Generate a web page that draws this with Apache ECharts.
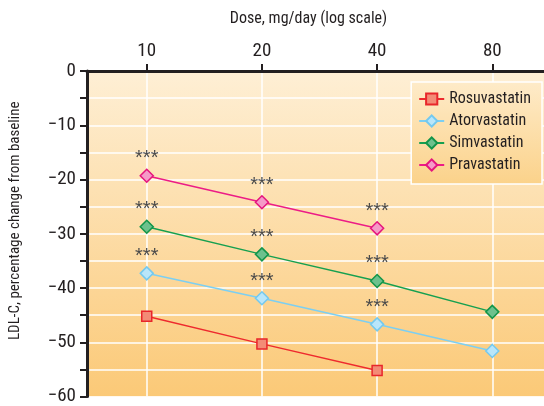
<!DOCTYPE html>
<html><head><meta charset="utf-8">
<script src="https://cdn.jsdelivr.net/npm/echarts@6/dist/echarts.min.js"></script>
<style>html,body{margin:0;padding:0;background:#fff}#c{width:544px;height:406px}</style>
</head><body><div id="c"></div>
<script>
// ---- data ----
const doses = [10, 20, 40, 80];
const xTickValues = [10, 20, 40, 80];
const seriesNames = ['Rosuvastatin', 'Atorvastatin', 'Simvastatin', 'Pravastatin'];
const rosuvastatin = [-45.2, -50.3, -55.2, null];
const atorvastatin = [-37.3, -41.9, -46.7, -51.6];
const simvastatin = [-28.7, -33.8, -38.7, -44.4];
const pravastatin = [-19.3, -24.2, -29.0, null];
const rosuvastatinSig = [false, false, false, false];
const atorvastatinSig = [true, true, true, false];
const simvastatinSig = [true, true, true, false];
const pravastatinSig = [true, true, true, false];
const sigMark = '***';
const xAxisTitle = 'Dose, mg/day (log scale)';
const yAxisTitle = 'LDL-C, percentage change from baseline';

// ---- styles ----
const FONT = '"Roboto Condensed", "Open Sans Condensed", "DejaVu Sans Condensed", "Liberation Sans Narrow", "Liberation Sans", sans-serif';
const INK = '#231f20';
const styles = [
  {line: '#ee2a2e', fill: '#f38b76', border: '#e8262b', symbol: 'rect', size: 10},
  {line: '#7ccff2', fill: '#b9e6fa', border: '#74c9ef', symbol: 'diamond', size: 13},
  {line: '#16a050', fill: '#6cc18d', border: '#12954a', symbol: 'diamond', size: 13},
  {line: '#ec1c86', fill: '#f59ac8', border: '#e5157e', symbol: 'diamond', size: 13}
];
const allValues = [rosuvastatin, atorvastatin, simvastatin, pravastatin];
const allSig = [rosuvastatinSig, atorvastatinSig, simvastatinSig, pravastatinSig];

const series = seriesNames.map((name, k) => {
  const st = styles[k];
  const data = [];
  doses.forEach((d, i) => {
    const v = allValues[k][i];
    if (v === null) return;
    data.push({value: [d, v], label: {show: allSig[k][i]}});
  });
  return {
    name, type: 'line', data,
    symbol: st.symbol, symbolSize: st.size,
    lineStyle: {color: st.line, width: 1.5},
    itemStyle: {color: st.fill, borderColor: st.border, borderWidth: 1.5},
    label: {show: false, position: 'top', distance: 0, formatter: sigMark,
      fontFamily: '"Liberation Sans", sans-serif', fontSize: 20, color: '#4a4a4a'},
    emphasis: {disabled: true},
    animation: false
  };
});

const chart = echarts.init(document.getElementById('c'), null, {renderer: 'canvas'});
chart.setOption({
  animation: false,
  backgroundColor: '#ffffff',
  grid: {
    left: 85, right: 0, top: 71, bottom: 8, show: true, borderWidth: 0,
    backgroundColor: {type: 'linear', x: 0, y: 0, x2: 0, y2: 1,
      colorStops: [{offset: 0, color: '#feefd5'}, {offset: 1, color: '#fbc977'}]}
  },
  legend: {
    orient: 'vertical', right: 2, top: 82,
    padding: [9, 11, 11, 7], itemGap: 6, itemWidth: 25, itemHeight: 14,
    borderColor: '#ffffff', borderWidth: 1.5,
    backgroundColor: {type: 'linear', x: 0, y: 0, x2: 0, y2: 1,
      colorStops: [{offset: 0, color: '#feebc9'}, {offset: 1, color: '#fbd28a'}]},
    textStyle: {fontFamily: FONT, fontSize: 16, lineHeight: 14, color: INK},
    data: seriesNames
  },
  xAxis: {
    type: 'log', logBase: 2, min: 6.98, max: 109.2, position: 'top',
    name: xAxisTitle, nameLocation: 'middle', nameGap: 44,
    nameTextStyle: {fontFamily: FONT, fontSize: 16, color: INK, padding: [0, 14, 0, 0]},
    axisLine: {show: true, lineStyle: {color: INK, width: 3}},
    axisTick: {show: true, length: 7, lineStyle: {color: INK, width: 2}, customValues: xTickValues},
    axisLabel: {fontFamily: FONT, fontSize: 19, color: INK, margin: 10, customValues: xTickValues},
    splitLine: {show: true, lineStyle: {color: '#ffffff', width: 1.5}},
    minorTick: {show: false}
  },
  yAxis: {
    type: 'value', min: -60, max: 0, interval: 5,
    name: yAxisTitle, nameLocation: 'middle', nameGap: 64,
    nameTextStyle: {fontFamily: FONT, fontSize: 15, color: INK, padding: [0, 0, 0, 26]},
    axisLine: {show: true, lineStyle: {color: INK, width: 3}},
    axisTick: {show: true, length: 7, lineStyle: {color: INK, width: 2}},
    axisLabel: {fontFamily: FONT, fontSize: 19, color: INK, margin: 11,
      formatter: v => (v % 10 !== 0) ? '' : (v === 0 ? '0' : '\u2212' + Math.abs(v))},
    splitLine: {show: true, lineStyle: {color: '#ffffff', width: 1.5}}
  },
  series
});
</script></body></html>
